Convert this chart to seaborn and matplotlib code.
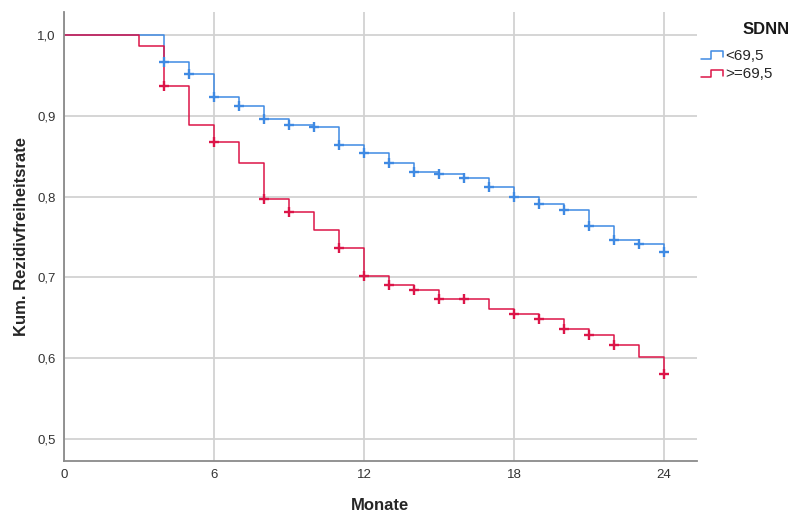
import numpy as np
import pandas as pd
import matplotlib
matplotlib.use("Agg")
import matplotlib.pyplot as plt
from matplotlib.lines import Line2D
from matplotlib.legend_handler import HandlerBase
import seaborn as sns

# ---- data ----
groups = ["<69,5", ">=69,5"]
months_low = [0, 4, 5, 6, 7, 8, 9, 10, 11, 12, 13, 14, 15, 16, 17, 18, 19, 20, 21, 22, 23, 24]
surv_low = [1.0, 0.966, 0.952, 0.923, 0.912, 0.896, 0.889, 0.886, 0.864, 0.854, 0.842,
            0.831, 0.828, 0.823, 0.812, 0.800, 0.791, 0.783, 0.764, 0.746, 0.741, 0.732]
cens_low = [4, 5, 6, 7, 8, 9, 10, 11, 12, 13, 14, 15, 16, 17, 18, 19, 20, 21, 22, 23, 24]

months_high = [0, 3, 4, 5, 6, 7, 8, 9, 10, 11, 12, 13, 14, 15, 17, 18, 19, 20, 21, 22, 23, 24]
surv_high = [1.0, 0.986, 0.937, 0.889, 0.868, 0.841, 0.797, 0.781, 0.759, 0.736, 0.702, 0.691,
             0.685, 0.673, 0.661, 0.655, 0.649, 0.636, 0.629, 0.616, 0.602, 0.581]
cens_high = [4, 6, 8, 9, 11, 12, 13, 14, 15, 16, 18, 19, 20, 21, 22, 24]

x_ticks = [0, 6, 12, 18, 24]
y_ticks = [0.5, 0.6, 0.7, 0.8, 0.9, 1.0]
y_ticklabels = ["0,5", "0,6", "0,7", "0,8", "0,9", "1,0"]

colors = {"<69,5": "#3f8ae3", ">=69,5": "#dc1548"}


def step_value(times, vals, t):
    idx = np.searchsorted(times, t, side="right") - 1
    return vals[idx]


curve = pd.concat([
    pd.DataFrame({"Monate": months_low, "S": surv_low, "SDNN": groups[0]}),
    pd.DataFrame({"Monate": months_high, "S": surv_high, "SDNN": groups[1]}),
], ignore_index=True)

cens = pd.concat([
    pd.DataFrame({"Monate": cens_low,
                  "S": [step_value(months_low, surv_low, t) for t in cens_low],
                  "SDNN": groups[0]}),
    pd.DataFrame({"Monate": cens_high,
                  "S": [step_value(months_high, surv_high, t) for t in cens_high],
                  "SDNN": groups[1]}),
], ignore_index=True)

sns.set_theme(style="white")
plt.rcParams["font.family"] = ["Liberation Sans", "DejaVu Sans"]

fig = plt.figure(figsize=(7.94, 5.15), dpi=100)
ax = fig.add_axes([64 / 794, 1 - 461 / 515, (697 - 64) / 794, (461 - 12) / 515])

for g in groups:
    sub = curve[curve.SDNN == g]
    sns.lineplot(data=sub, x="Monate", y="S", ax=ax, color=colors[g],
                 drawstyle="steps-post", linewidth=1.1, estimator=None,
                 sort=False, legend=False)
    subc = cens[cens.SDNN == g]
    ax.plot(subc["Monate"], subc["S"], linestyle="none", marker="+",
            markersize=7, markeredgewidth=1.7, color=colors[g], zorder=4)

ax.set_xlim(0, 25.32)
ax.set_ylim(0.4728, 1.0285)
ax.set_xticks(x_ticks)
ax.set_xticklabels([str(t) for t in x_ticks])
ax.set_yticks(y_ticks)
ax.set_yticklabels(y_ticklabels)
ax.grid(True, color="#d2d2d2", linewidth=1.3)
ax.set_axisbelow(True)
for s in ["top", "right"]:
    ax.spines[s].set_visible(False)
for s in ["left", "bottom"]:
    ax.spines[s].set_color("#8a8a8a")
    ax.spines[s].set_linewidth(1.3)
ax.tick_params(axis="both", length=0, labelsize=9.5, colors="#333333", pad=6)
ax.set_xlabel("Monate", fontsize=12, fontweight="bold", labelpad=12)
ax.set_ylabel("Kum. Rezidivfreiheitsrate", fontsize=12, fontweight="bold", labelpad=6)


class StepHandler(HandlerBase):
    def create_artists(self, legend, orig_handle, xdescent, ydescent,
                       width, height, fontsize, trans):
        x0 = -xdescent
        w = width
        yb = -ydescent + height * 0.1
        yt = -ydescent + height * 0.8
        xs = [x0, x0 + w * 0.45, x0 + w * 0.45, x0 + w, x0 + w]
        ys = [yb, yb, yt, yt, yb + height * 0.15]
        ln = Line2D(xs, ys, color=orig_handle.get_color(), linewidth=1.1,
                    transform=trans)
        return [ln]


fig.text(790 / 794, 1 - 30 / 515, "SDNN", ha="right", va="center",
         fontsize=12, fontweight="bold", color="#1a1a1a")

handles = [Line2D([], [], color=colors[g]) for g in groups]
leg = fig.legend(handles, groups, loc="upper left",
                 bbox_to_anchor=(687 / 794, 1 - 35 / 515), frameon=False,
                 handler_map={Line2D: StepHandler()}, handlelength=1.45,
                 handletextpad=0.15, labelspacing=0.3, fontsize=11)

fig.savefig("out.png", dpi=100)
